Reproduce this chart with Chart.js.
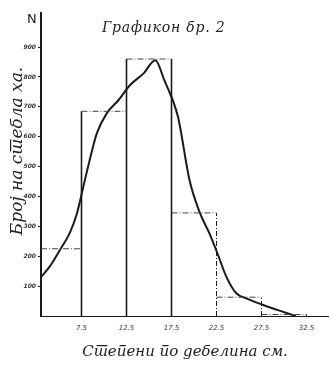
<!doctype html>
<html lang="mk">
<head>
<meta charset="utf-8">
<script src="https://cdn.jsdelivr.net/npm/chart.js/dist/chart.umd.min.js"></script>
<style>
  * { margin: 0; padding: 0; }
  body { background: #fff; width: 329px; height: 365px; overflow: hidden; }
  .wrap { position: relative; width: 329px; height: 365px; }
  .chartTitle { position: absolute; left: 102px; top: 19px; font: italic 14px "DejaVu Serif"; color: #222; letter-spacing: 0.8px; }
  .nLabel { position: absolute; left: 27px; top: 11px; font: 13px "DejaVu Sans"; color: #222; }
</style>
</head>
<body>
<div class="wrap">
  <canvas id="hist" width="329" height="365"></canvas>
  <div class="chartTitle">Графикон бр. 2</div>
  <div class="nLabel">N</div>
</div>
<script>
// класи по дебелина (cm) и број на стебла по ха
const classEdges = [3, 7.5, 12.5, 17.5, 22.5, 27.5, 32.5];
const classCounts = [225, 685, 860, 345, 63, 5];

// изедначена крива
const curveX = [3.0, 4.0, 5.1, 6.2, 7.0, 7.9, 8.5, 9.2, 10.3, 11.6, 12.9, 14.4, 15.7, 16.7, 18.2, 19.5, 20.6, 21.7, 22.6, 23.6, 24.7, 25.8, 27.7, 29.5, 31.3];
const curveN = [130, 167, 221, 278, 344, 458, 533, 611, 678, 722, 773, 812, 856, 789, 669, 455, 349, 277, 210, 131, 76, 59, 37, 18, 0];

const xTicks = [7.5, 12.5, 17.5, 22.5, 27.5, 32.5];
const yTicks = [100, 200, 300, 400, 500, 600, 700, 800, 900];

// tops of the class rectangles
const tops = [];
classCounts.forEach((n, i) => {
    tops.push({x: classEdges[i], y: n});
    tops.push({x: classEdges[i + 1], y: n});
    tops.push({x: classEdges[i + 1], y: null});
});

// vertical sides
const sides = [];
for (let i = 1; i < classEdges.length; i++) {
    const h = Math.max(classCounts[i - 1], classCounts[i] || 0);
    sides.push({x: classEdges[i], y: 0});
    sides.push({x: classEdges[i], y: h});
    sides.push({x: classEdges[i], y: null});
}

const curve = curveX.map((x, i) => ({x: x, y: curveN[i]}));

const ink = '#1a1a1a';

new Chart(document.getElementById('hist'), {
    type: 'line',
    data: {
        datasets: [
            {
                data: tops,
                borderColor: '#444',
                borderWidth: 1,
                borderDash: [6, 2, 1, 2],
                pointRadius: 0,
                spanGaps: false
            },
            {
                data: sides,
                borderColor: ink,
                borderWidth: 1.6,
                pointRadius: 0,
                spanGaps: false,
                segment: {
                    borderDash: ctx => ctx.p0.parsed.x > 20 ? [5, 2, 1, 2] : undefined,
                    borderWidth: ctx => ctx.p0.parsed.x > 20 ? 1 : 1.6
                }
            },
            {
                data: curve,
                borderColor: ink,
                borderWidth: 2,
                pointRadius: 0,
                cubicInterpolationMode: 'monotone'
            }
        ]
    },
    options: {
        responsive: false,
        animation: false,
        layout: { padding: { top: 13, right: 0, left: 0, bottom: 0 } },
        plugins: {
            legend: { display: false },
            tooltip: { enabled: false }
        },
        scales: {
            x: {
                type: 'linear',
                min: 3,
                max: 35,
                afterBuildTicks: s => { s.ticks = xTicks.map(v => ({value: v})); },
                afterFit: s => { s.height = 49; },
                grid: { display: false },
                border: { display: true, color: ink, width: 1, dash: [8, 3, 2, 3] },
                ticks: {
                    color: '#333',
                    font: { family: 'DejaVu Sans', size: 7, style: 'italic' },
                    padding: 0,
                    maxRotation: 0,
                    callback: v => v.toFixed(1)
                },
                title: {
                    display: true,
                    text: 'Степени по дебелина см.',
                    color: '#222',
                    font: { family: 'DejaVu Serif', size: 15, style: 'italic' },
                    padding: { top: 0, bottom: 4 }
                }
            },
            y: {
                min: 0,
                max: 1014,
                afterBuildTicks: s => { s.ticks = yTicks.map(v => ({value: v})); },
                afterFit: s => { s.width = 41; },
                grid: { display: true, drawOnChartArea: false, drawTicks: true, tickLength: 3, color: ink },
                border: { display: true, color: ink, width: 2 },
                ticks: {
                    color: '#333',
                    font: { family: 'DejaVu Sans', size: 6, style: 'italic', weight: 'bold' },
                    padding: 2
                },
                title: {
                    display: true,
                    text: '     Број на стебла ха.',
                    color: '#222',
                    font: { family: 'DejaVu Serif', size: 17, style: 'italic' },
                    padding: { top: 7, bottom: 0 }
                }
            }
        }
    }
});
</script>
</body>
</html>
